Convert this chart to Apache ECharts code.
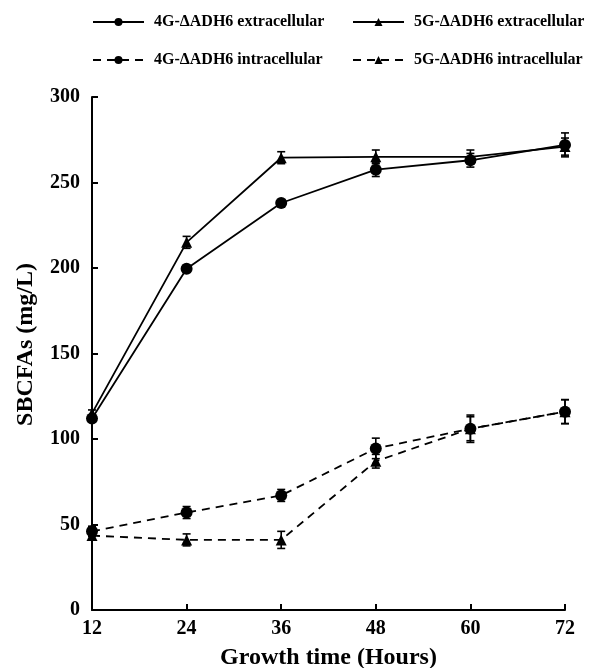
<!DOCTYPE html>
<html>
<head>
<meta charset="utf-8">
<script src="https://cdn.jsdelivr.net/npm/echarts@6/dist/echarts.min.js"></script>
<style>html,body{margin:0;padding:0;background:#fff;}#c{width:590px;height:668px;}</style>
</head>
<body>
<div id="c"></div>
<script>
var hours = [12, 24, 36, 48, 60, 72];
var seriesNames = ['4G-ΔADH6 extracellular', '5G-ΔADH6 extracellular', '4G-ΔADH6 intracellular', '5G-ΔADH6 intracellular'];
var ext4G = [112, 199.5, 238, 257.5, 263, 272];
var ext4GErr = [2, 2, 2, 4, 4, 7];
var ext5G = [115, 215, 264.5, 265, 265, 271];
var ext5GErr = [2, 3.5, 3.5, 4, 4, 5];
var int4G = [46, 57, 67, 94.5, 106, 116];
var int4GErr = [3, 3.5, 3.5, 6, 8, 7];
var int5G = [43.5, 41, 41, 87, 106, 116];
var int5GErr = [2, 3.5, 5, 4, 7, 7];
var yTicks = {min: 0, max: 300, interval: 50};
var xTicks = {min: 12, max: 72, interval: 12};

var FONT = '"Liberation Serif", "Times New Roman", serif';

function pairs(xs, ys) { return xs.map(function (x, i) { return [x, ys[i]]; }); }
function errData(xs, ys, es) { return xs.map(function (x, i) { return [x, ys[i] - es[i], ys[i] + es[i]]; }); }

function renderErr(params, api) {
  var x = api.value(0), lo = api.value(1), hi = api.value(2);
  var p1 = api.coord([x, hi]), p2 = api.coord([x, lo]);
  var w = 4;
  var st = {stroke: '#000', lineWidth: 1.6};
  return {type: 'group', children: [
    {type: 'line', shape: {x1: p1[0], y1: p1[1], x2: p2[0], y2: p2[1]}, style: st},
    {type: 'line', shape: {x1: p1[0] - w, y1: p1[1], x2: p1[0] + w, y2: p1[1]}, style: st},
    {type: 'line', shape: {x1: p2[0] - w, y1: p2[1], x2: p2[0] + w, y2: p2[1]}, style: st}
  ]};
}

function lineSeries(name, vals, symbol, dashed) {
  return {
    name: name, type: 'line', data: pairs(hours, vals),
    symbol: symbol, symbolSize: symbol === 'circle' ? 12 : 11,
    itemStyle: {color: '#000'},
    lineStyle: {color: '#000', width: 1.8, type: dashed ? [8, 6] : 'solid'},
    z: 3, animation: false
  };
}
function errSeries(name, vals, errs) {
  return {
    name: name, type: 'custom', renderItem: renderErr,
    data: errData(hours, vals, errs), z: 4, animation: false, silent: true
  };
}

var legendText = {fontFamily: FONT, fontWeight: 'bold', fontSize: 16, color: '#000', padding: [0, 0, 0, 5]};
function legendAt(name, left, top) {
  return {data: [name], left: left, top: top, itemWidth: 51, itemHeight: 10, padding: 0,
    textStyle: legendText, selectedMode: false};
}

var chart = echarts.init(document.getElementById('c'));
chart.setOption({
  backgroundColor: '#fff',
  animation: false,
  legend: [
    legendAt(seriesNames[0], 92, 14),
    legendAt(seriesNames[1], 352, 14),
    legendAt(seriesNames[2], 92, 52),
    legendAt(seriesNames[3], 352, 52)
  ],
  grid: {left: 92, right: 25, top: 97, bottom: 58, containLabel: false, outerBoundsMode: 'none'},
  xAxis: {
    type: 'value', min: xTicks.min, max: xTicks.max, interval: xTicks.interval,
    name: 'Growth time (Hours)', nameLocation: 'middle', nameGap: 36,
    nameTextStyle: {fontFamily: FONT, fontWeight: 'bold', fontSize: 24, color: '#000'},
    axisLine: {lineStyle: {color: '#000', width: 2}},
    axisTick: {inside: true, length: 6, lineStyle: {color: '#000', width: 2}},
    axisLabel: {fontFamily: FONT, fontWeight: 'bold', fontSize: 20, color: '#000', margin: 9},
    splitLine: {show: false}
  },
  yAxis: {
    type: 'value', min: yTicks.min, max: yTicks.max, interval: yTicks.interval,
    name: 'SBCFAs (mg/L)', nameLocation: 'middle', nameGap: 54,
    nameTextStyle: {fontFamily: FONT, fontWeight: 'bold', fontSize: 24, color: '#000', padding: [0, 0, 0, 18]},
    axisLine: {show: true, lineStyle: {color: '#000', width: 2}},
    axisTick: {show: true, inside: true, length: 6, lineStyle: {color: '#000', width: 2}},
    axisLabel: {fontFamily: FONT, fontWeight: 'bold', fontSize: 20, color: '#000', margin: 12},
    splitLine: {show: false}
  },
  series: [
    lineSeries(seriesNames[0], ext4G, 'circle', false),
    lineSeries(seriesNames[1], ext5G, 'triangle', false),
    lineSeries(seriesNames[2], int4G, 'circle', true),
    lineSeries(seriesNames[3], int5G, 'triangle', true),
    errSeries(seriesNames[0], ext4G, ext4GErr),
    errSeries(seriesNames[1], ext5G, ext5GErr),
    errSeries(seriesNames[2], int4G, int4GErr),
    errSeries(seriesNames[3], int5G, int5GErr)
  ]
});
</script>
</body>
</html>
